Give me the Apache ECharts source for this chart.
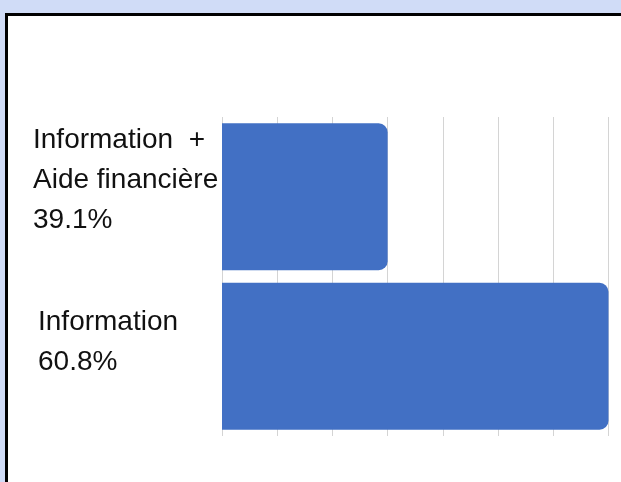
<!DOCTYPE html>
<html>
<head>
<meta charset="utf-8">
<script src="https://cdn.jsdelivr.net/npm/echarts@6/dist/echarts.min.js"></script>
<style>
  html, body { margin: 0; padding: 0; background: #d0dcf7; overflow: hidden; }
  #panel {
    position: absolute; left: 5px; top: 13px; width: 700px; height: 600px;
    border: 3px solid #000; background: #fff;
  }
  #chart { position: absolute; left: 0; top: 0; width: 621px; height: 482px; }
</style>
</head>
<body>
<div id="panel"></div>
<div id="chart"></div>
<script>
// categories listed bottom to top (category axis starts at the bottom)
const categories = ['Information', 'Information  +\nAide financière']
const percentLabels = ['60.8%', '39.1%']
const values = [60.8, 39.1]

// axis scale: 7 steps, first bar ends on step 3
const axisMax = 60.8
const axisStep = 5.425
const axisMin = axisMax - 7 * axisStep

const chart = echarts.init(document.getElementById('chart'))

const txt = { fontFamily: 'Liberation Sans', fontSize: 28, lineHeight: 40, color: '#111' }

const option = {
  backgroundColor: 'transparent',
  animation: false,
  grid: {
    left: 222,
    right: 12.5,
    top: 117,
    bottom: 46,
    containLabel: false,
    outerBoundsMode: 'none'
  },
  xAxis: {
    type: 'value',
    min: axisMin,
    max: axisMax,
    interval: axisStep,
    axisLine: { show: false },
    axisTick: { show: false },
    axisLabel: { show: false },
    splitLine: { lineStyle: { color: '#d4d4d4', width: 1 } }
  },
  yAxis: {
    type: 'category',
    data: categories,
    axisLine: { show: false },
    axisTick: { show: false },
    axisLabel: {
      align: 'left',
      margin: 189,
      formatter: function (value, idx) {
        // labels sit a little above the bar centre: trailing spacer line
        const style = idx === 0 ? 'b' : 'a'
        const spacer = idx === 0 ? 's1' : 's2'
        return value.split('\n').concat(percentLabels[idx])
          .map(function (s) { return '{' + style + '|' + s + '}' })
          .concat('{' + spacer + '| }').join('\n')
      },
      rich: {
        a: Object.assign({}, txt),
        b: Object.assign({ padding: [0, 0, 0, 5] }, txt),
        s1: { fontSize: 10, lineHeight: 27 },
        s2: { fontSize: 10, lineHeight: 33 }
      }
    }
  },
  series: [
    {
      type: 'bar',
      data: values,
      barWidth: 147,
      itemStyle: {
        color: '#4270c4',
        borderRadius: [0, 9, 9, 0]
      }
    }
  ]
}

chart.setOption(option)
</script>
</body>
</html>
